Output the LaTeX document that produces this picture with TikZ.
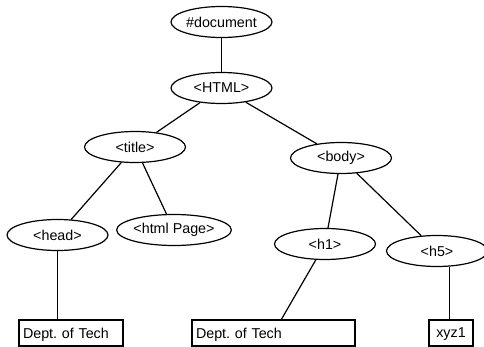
\documentclass[tikz,border=0pt]{standalone}
\usepackage{fontspec}
\setmainfont{Liberation Sans}
\usetikzlibrary{shapes.geometric}
\begin{document}
\begin{tikzpicture}[x=1pt,y=-1pt,
  elem/.style={ellipse,draw,line width=1.2pt,fill=white,inner sep=0pt,minimum width=101pt,minimum height=31pt,font=\fontsize{14.3}{16}\selectfont},
  leaf/.style={rectangle,draw,line width=1.2pt,inner sep=0pt,minimum height=26pt,align=left,text depth=0pt,font=\fontsize{14.3}{16}\selectfont},
  conn/.style={line width=1.2pt}]
\useasboundingbox (0,0) rectangle (484,347);
\node[elem] (doc) at (221.5,22) {\#document};
\node[elem] (html) at (221.5,88) {<HTML>};
\node[elem] (title) at (135,147) {<title>};
\node[elem] (head) at (57.5,235) {<head>};
\node[elem] (hpage) at (174,230) {<html Page>};
\node[elem] (body) at (341,158) {<body>};
\node[elem] (h1) at (325,244) {<h1>};
\node[elem] (h5) at (437,251) {<h5>};
\node[leaf,minimum width=104pt,text width=96pt] (d1) at (71,333) {Dept.\ of Tech};
\node[leaf,minimum width=163pt,text width=155pt] (d2) at (273.5,333) {Dept.\ of Tech};
\node[leaf,minimum width=44pt,align=center] (xyz) at (451,333) {xyz1};
\coordinate (h5foot) at (449.5,0);
\draw[conn] (doc) -- (html);
\draw[conn] (html) -- (title);
\draw[conn] (html) -- (body);
\draw[conn] (title) -- (head);
\draw[conn] (title) -- (hpage);
\draw[conn] (body) -- (h1);
\draw[conn] (body) -- (h5);
\draw[conn] (h1) -- (d2);
\draw[conn] (head.south) -- (head.south |- d1.north);
\draw[conn] (h5.-50 -| h5foot) -- (h5foot |- xyz.north);
\end{tikzpicture}
\end{document}
